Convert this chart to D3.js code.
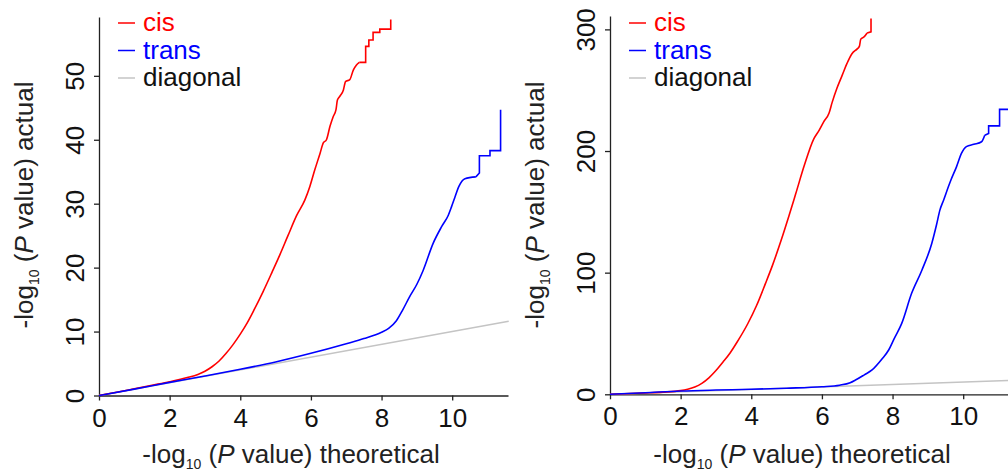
<!DOCTYPE html>
<html>
<head>
<meta charset="utf-8">
<script src="https://cdn.jsdelivr.net/npm/d3@7"></script>
<style>
  html, body { margin: 0; padding: 0; background: #fff; }
  svg { display: block; font-family: "Liberation Sans", Arial, sans-serif; }
</style>
</head>
<body>
<svg id="chart" width="1008" height="476"></svg>
<script>
// Q-Q curves: [theoretical -log10 P, observed -log10 P]
const cisLeft = [
  [0, 0], [0.5, 0.5], [1, 1.05], [1.5, 1.6], [2, 2.15], [2.5, 2.8], [2.8, 3.3],
  [3.0, 3.8], [3.2, 4.5], [3.4, 5.4], [3.6, 6.6], [3.8, 8.0], [4.0, 9.6], [4.2, 11.4],
  [4.4, 13.5], [4.65, 16.3], [4.9, 19.3], [5.12, 22], [5.35, 25], [5.6, 28.2],
  [5.83, 30.6], [5.97, 32.7], [6.11, 35.3], [6.26, 37.9], [6.35, 39.5], [6.44, 40.0],
  [6.54, 42.1], [6.63, 43.6], [6.71, 44.7], [6.75, 46.2], [6.82, 46.8], [6.92, 47.8],
  [6.98, 49.1], [7.10, 49.4], [7.20, 50.9], [7.29, 51.7], [7.37, 52.1], [7.55, 52.1],
  [7.55, 54.6], [7.64, 54.6], [7.64, 55.6], [7.76, 55.6], [7.76, 56.8], [7.95, 56.8],
  [7.95, 57.3], [8.26, 57.3], [8.26, 58.8]
];
const transLeft = [
  [0, 0], [1, 1.0], [2, 2.05], [3, 3.05], [4, 4.1], [5, 5.25], [6, 6.6], [7, 8.1],
  [7.5, 8.9], [8, 9.9], [8.2, 10.5], [8.42, 11.7], [8.6, 13.4], [8.8, 15.5],
  [9.0, 17.4], [9.18, 19.6], [9.46, 23.8], [9.70, 26.4], [9.89, 28.2], [9.98, 29.5],
  [10.07, 30.9], [10.19, 32.7], [10.36, 33.9], [10.67, 34.2], [10.77, 34.8],
  [10.77, 37.5], [11.07, 37.5], [11.07, 38.3], [11.37, 38.3], [11.37, 44.7]
];
const cisRight = [
  [0, 0], [1, 1.1], [1.5, 1.8], [2, 3.0], [2.2, 4.2], [2.4, 6.0], [2.6, 9.0],
  [2.8, 13.5], [3.0, 19.5], [3.2, 26.5], [3.4, 34], [3.6, 43], [3.9, 58], [4.15, 73],
  [4.4, 91], [4.6, 106], [4.85, 127], [5.07, 147], [5.26, 165], [5.5, 188],
  [5.77, 210], [5.92, 217], [6.05, 224], [6.2, 231], [6.29, 240], [6.43, 252],
  [6.57, 262], [6.71, 272], [6.85, 280], [7.0, 284], [7.06, 286], [7.1, 292],
  [7.2, 294], [7.28, 297], [7.39, 298], [7.39, 309]
];
const transRight = [
  [0, 0], [1, 1.3], [2, 2.7], [3, 3.5], [4, 4.1], [5, 5.0], [6, 6.2], [6.5, 7.5],
  [6.8, 9.5], [6.95, 11.7], [7.2, 16], [7.42, 20], [7.7, 29], [7.89, 36.4],
  [8.05, 46], [8.26, 58.3], [8.54, 83], [8.83, 102], [9.11, 124], [9.25, 140],
  [9.34, 151.4], [9.45, 160], [9.58, 170.6], [9.65, 176], [9.81, 187], [9.95, 198],
  [10.09, 203.6], [10.3, 205.5], [10.52, 207.6], [10.61, 213], [10.72, 214.5],
  [10.72, 220.7], [11.03, 220.7], [11.03, 234.2], [11.6, 234.2]
];
const diagonal = [[0, 0], [11.6, 11.6]];

const xTicks = [0, 2, 4, 6, 8, 10];
const yTicksLeft = [0, 10, 20, 30, 40, 50];
const yTicksRight = [0, 100, 200, 300];
const legendLabels = ["cis", "trans", "diagonal"];
const seriesColors = ["#ff0000", "#0000ff", "#c4c4c4"];
const xDomain = [0, 11.58];
const yDomainLeft = [0, 59.2];
const yDomainRight = [0, 311];

const svg = d3.select("#chart");
const FONT = 26;

function axisTitle(g, suffix) {
  g.append("tspan").text("-log");
  g.append("tspan").attr("font-size", 14).attr("dy", 6).text("10");
  g.append("tspan").attr("dy", -6).text(" (");
  g.append("tspan").attr("font-style", "italic").text("P");
  g.append("tspan").text(" value) " + suffix);
}

// Smooth the continuous body of a curve, keep the sparse tail as crisp steps.
function drawCurve(g, pts, line, smooth, color) {
  let k = pts.findIndex((d, i) => i > 0 && i < pts.length - 1 && d[0] === pts[i + 1][0]);
  if (k < 0) k = pts.length - 1;
  k = Math.max(1, k - 1);
  g.append("path").datum(pts.slice(0, k + 1)).attr("d", smooth)
    .attr("fill", "none").attr("stroke", color).attr("stroke-width", 1.6)
    .attr("stroke-linejoin", "round");
  g.append("path").datum(pts.slice(k)).attr("d", line)
    .attr("fill", "none").attr("stroke", color).attr("stroke-width", 1.6)
    .attr("stroke-linejoin", "miter");
}

function drawPanel(p) {
  const x = d3.scaleLinear().domain(xDomain).range([p.left, p.left + 409]);
  const y = d3.scaleLinear().domain(p.yDomain).range([p.bottom, p.top]);
  const g = svg.append("g");

  // axes
  const xAxis = d3.axisBottom(x).tickValues(xTicks).tickSize(5).tickSizeOuter(0);
  const gx = g.append("g").attr("transform", `translate(0,${p.bottom})`).call(xAxis);
  gx.selectAll("text").attr("font-size", FONT).attr("fill", "#111").attr("dy", null).attr("y", 31);

  const yAxis = d3.axisLeft(y).tickValues(p.yTicks).tickSize(5).tickSizeOuter(0);
  const gy = g.append("g").attr("transform", `translate(${p.left},0)`).call(yAxis);
  gy.selectAll("text")
    .attr("font-size", FONT).attr("fill", "#111")
    .attr("x", 0).attr("y", -15).attr("dy", null)
    .attr("text-anchor", "middle")
    .attr("transform", "rotate(-90)");
  g.selectAll(".domain, .tick line").attr("stroke", "#222").attr("stroke-width", 1.3);
  g.selectAll(".tick text").attr("font-family", "Liberation Sans, Arial, sans-serif");

  // curves
  const line = d3.line().x(d => x(d[0])).y(d => y(d[1]));
  const smooth = d3.line().x(d => x(d[0])).y(d => y(d[1])).curve(d3.curveMonotoneX);
  g.append("path").datum(diagonal).attr("d", line)
    .attr("fill", "none").attr("stroke", seriesColors[2]).attr("stroke-width", 1.5);
  drawCurve(g, p.cis, line, smooth, seriesColors[0]);
  drawCurve(g, p.trans, line, smooth, seriesColors[1]);

  // titles
  const tx = g.append("text").attr("x", p.left + 192).attr("y", 463)
    .attr("text-anchor", "middle").attr("font-size", FONT).attr("fill", "#222");
  axisTitle(tx, "theoretical");
  const ty = g.append("text")
    .attr("transform", `translate(${p.left - 66},205) rotate(-90)`)
    .attr("text-anchor", "middle").attr("font-size", FONT).attr("fill", "#222");
  axisTitle(ty, "actual");

  // legend
  legendLabels.forEach((lab, i) => {
    const by = 31 + i * 27.5;
    g.append("line")
      .attr("x1", p.left + 19).attr("x2", p.left + 36)
      .attr("y1", by - 8).attr("y2", by - 8)
      .attr("stroke", seriesColors[i]).attr("stroke-width", 1.5);
    g.append("text").attr("x", p.left + 44).attr("y", by)
      .attr("font-size", FONT)
      .attr("fill", i === 2 ? "#111" : seriesColors[i])
      .text(lab);
  });
}

drawPanel({ left: 99, top: 17, bottom: 395.5, yDomain: yDomainLeft, yTicks: yTicksLeft,
            cis: cisLeft, trans: transLeft });
drawPanel({ left: 610, top: 16, bottom: 394.3, yDomain: yDomainRight, yTicks: yTicksRight,
            cis: cisRight, trans: transRight });
</script>
</body>
</html>
